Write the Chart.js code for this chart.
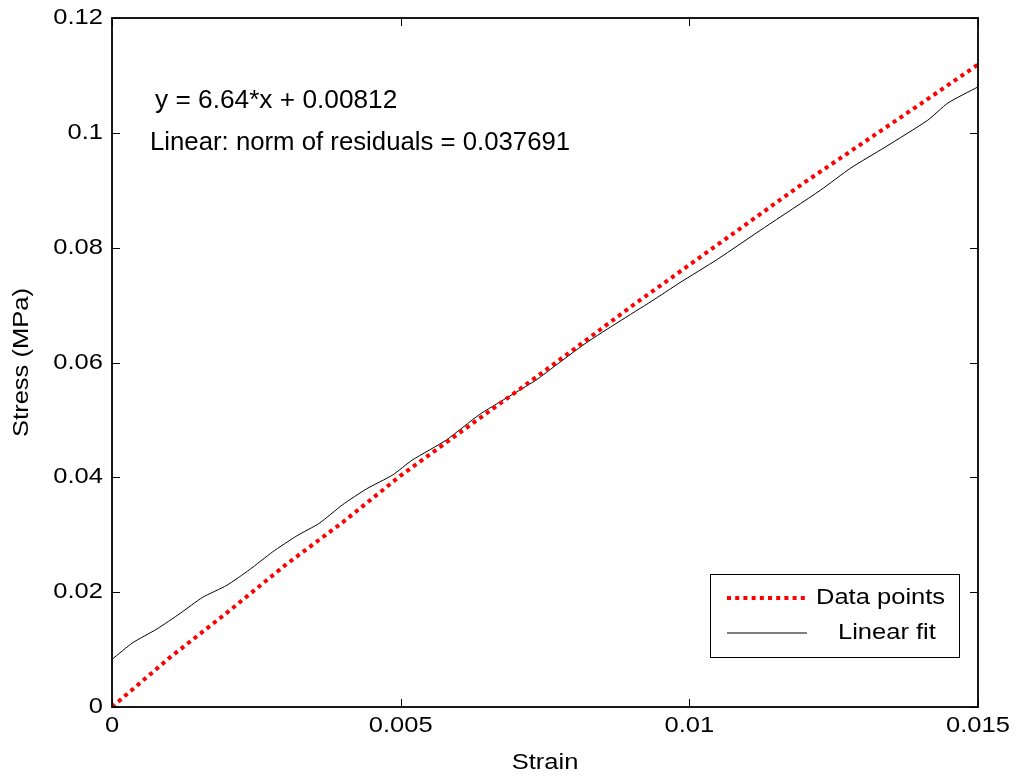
<!DOCTYPE html>
<html>
<head>
<meta charset="utf-8">
<script src="https://cdn.jsdelivr.net/npm/chart.js@4.4.0/dist/chart.umd.min.js"></script>
<style>
  html, body { margin: 0; padding: 0; background: #fff; }
  #wrap { width: 1018px; height: 780px; }
</style>
</head>
<body>
<div id="wrap"><canvas id="c"></canvas></div>
<script>
// measured data (red dotted)
const dataStrain = [0, 0.001, 0.002, 0.003, 0.004, 0.005, 0.006, 0.007, 0.008, 0.009, 0.010, 0.011, 0.012, 0.013, 0.014, 0.015];
const dataStress = [0, 0.0086, 0.0165, 0.0247, 0.0322, 0.0403, 0.0476, 0.0549, 0.0623, 0.0698, 0.0770, 0.0842, 0.0914, 0.0982, 0.1050, 0.1119];

// fit curve (thin black)
const fitStrain = [0, 0.00036, 0.00078, 0.00118, 0.00157, 0.00199, 0.00238, 0.00278, 0.0032, 0.00359, 0.00399, 0.00441, 0.00486, 0.0052, 0.00579, 0.00636, 0.00683, 0.00734, 0.00762, 0.00821, 0.00878, 0.00935, 0.00982, 0.01049, 0.0113, 0.01227, 0.0128, 0.01339, 0.01413, 0.01448, 0.015];
const fitStress = [0.0083, 0.0112, 0.0136, 0.0163, 0.0191, 0.0212, 0.0239, 0.027, 0.0298, 0.032, 0.0352, 0.038, 0.0404, 0.043, 0.0465, 0.0509, 0.0538, 0.0569, 0.059, 0.0634, 0.0671, 0.0707, 0.0738, 0.078, 0.0835, 0.09, 0.0939, 0.0975, 0.1022, 0.1052, 0.108];

const xTicks = [0, 0.005, 0.01, 0.015];
const yTicks = [0, 0.02, 0.04, 0.06, 0.08, 0.1, 0.12];

const FONT = 'Liberation Sans, Arial, sans-serif';

const toXY = (xs, ys) => xs.map((x, i) => ({ x: x, y: ys[i] }));
const fmt = v => String(parseFloat(Number(v).toFixed(4)));

// draw text stretched horizontally (matlab export is wider than arial)
function wideText(ctx, txt, x, y, align, size, stretch, rot) {
  ctx.save();
  ctx.font = size + 'px ' + FONT;
  ctx.textBaseline = 'middle';
  ctx.textAlign = align;
  ctx.translate(x, y);
  if (rot) ctx.rotate(rot);
  ctx.scale(stretch, 1);
  ctx.fillText(txt, 0, 0);
  ctx.restore();
}

// box, inward ticks, labels, fit text and legend
const matlabBox = {
  id: 'matlabBox',
  afterDraw(chart) {
    const ctx = chart.ctx;
    const a = chart.chartArea;
    const xs = chart.scales.x, ys = chart.scales.y;
    const tl = 8;
    ctx.save();
    ctx.strokeStyle = '#000';
    ctx.lineWidth = 1.8;
    ctx.strokeRect(a.left, a.top, a.right - a.left, a.bottom - a.top);
    ctx.lineWidth = 1;
    ctx.beginPath();
    xTicks.forEach(v => {
      const px = Math.round(xs.getPixelForValue(v)) + 0.5;
      ctx.moveTo(px, a.bottom); ctx.lineTo(px, a.bottom - tl);
      ctx.moveTo(px, a.top); ctx.lineTo(px, a.top + tl);
    });
    yTicks.forEach(v => {
      const py = Math.round(ys.getPixelForValue(v)) + 0.5;
      ctx.moveTo(a.left, py); ctx.lineTo(a.left + tl, py);
      ctx.moveTo(a.right, py); ctx.lineTo(a.right - tl, py);
    });
    ctx.stroke();

    ctx.fillStyle = '#000';
    // tick labels
    xTicks.forEach(v => wideText(ctx, fmt(v), xs.getPixelForValue(v), a.bottom + 19, 'center', 22, 1.16));
    yTicks.forEach(v => wideText(ctx, fmt(v), a.left - 9, ys.getPixelForValue(v), 'right', 22, 1.16));
    // axis titles
    wideText(ctx, 'Strain', (a.left + a.right) / 2, 763, 'center', 22, 1.16);
    wideText(ctx, 'Stress (MPa)', 22, (a.top + a.bottom) / 2, 'center', 22, 1.16, -Math.PI / 2);

    // fit annotation
    wideText(ctx, 'y = 6.64*x + 0.00812', a.left + 43, 101, 'left', 25, 1.05);
    wideText(ctx, 'Linear: norm of residuals = 0.037691', a.left + 38, 143, 'left', 25, 1.03);

    // legend
    const lx = 710, ly = 574, lw = 249, lh = 83;
    ctx.fillStyle = '#fff';
    ctx.fillRect(lx, ly, lw, lh);
    ctx.strokeStyle = '#000';
    ctx.lineWidth = 1;
    ctx.strokeRect(lx + 0.5, ly + 0.5, lw, lh);
    const ds = chart.data.datasets;
    const rows = [
      { d: ds[0], y: ly + 24, tx: 816 },
      { d: ds[1], y: ly + 59, tx: 838 }
    ];
    rows.forEach(r => {
      ctx.save();
      ctx.strokeStyle = r.d.borderColor;
      ctx.lineWidth = r.d.borderWidth;
      ctx.setLineDash(r.d.borderDash || []);
      ctx.beginPath();
      ctx.moveTo(lx + 17, r.y);
      ctx.lineTo(lx + 97, r.y);
      ctx.stroke();
      ctx.restore();
      ctx.fillStyle = '#000';
      wideText(ctx, r.d.label, r.tx, r.y, 'left', 22, 1.16);
    });
    ctx.restore();
  }
};

new Chart(document.getElementById('c'), {
  type: 'scatter',
  data: {
    datasets: [
      {
        label: 'Data points',
        data: toXY(dataStrain, dataStress),
        showLine: true,
        borderColor: '#ff0000',
        borderWidth: 4,
        borderDash: [4, 4.2],
        pointRadius: 0,
        tension: 0
      },
      {
        label: 'Linear fit',
        data: toXY(fitStrain, fitStress),
        showLine: true,
        borderColor: '#000000',
        borderWidth: 1,
        pointRadius: 0,
        tension: 0.2
      }
    ]
  },
  options: {
    responsive: true,
    maintainAspectRatio: false,
    animation: false,
    layout: { padding: { left: 0, right: 40, top: 18, bottom: 0 } },
    plugins: { legend: { display: false }, tooltip: { enabled: false } },
    scales: {
      x: {
        type: 'linear',
        min: 0, max: 0.015,
        afterBuildTicks: s => { s.ticks = xTicks.map(v => ({ value: v })); },
        afterFit: s => { s.height = 73; },
        grid: { display: false, drawTicks: false },
        border: { display: false },
        ticks: { display: false }
      },
      y: {
        type: 'linear',
        min: 0, max: 0.12,
        afterBuildTicks: s => { s.ticks = yTicks.map(v => ({ value: v })); },
        afterFit: s => { s.width = 112; },
        grid: { display: false, drawTicks: false },
        border: { display: false },
        ticks: { display: false }
      }
    }
  },
  plugins: [matlabBox]
});
</script>
</body>
</html>
